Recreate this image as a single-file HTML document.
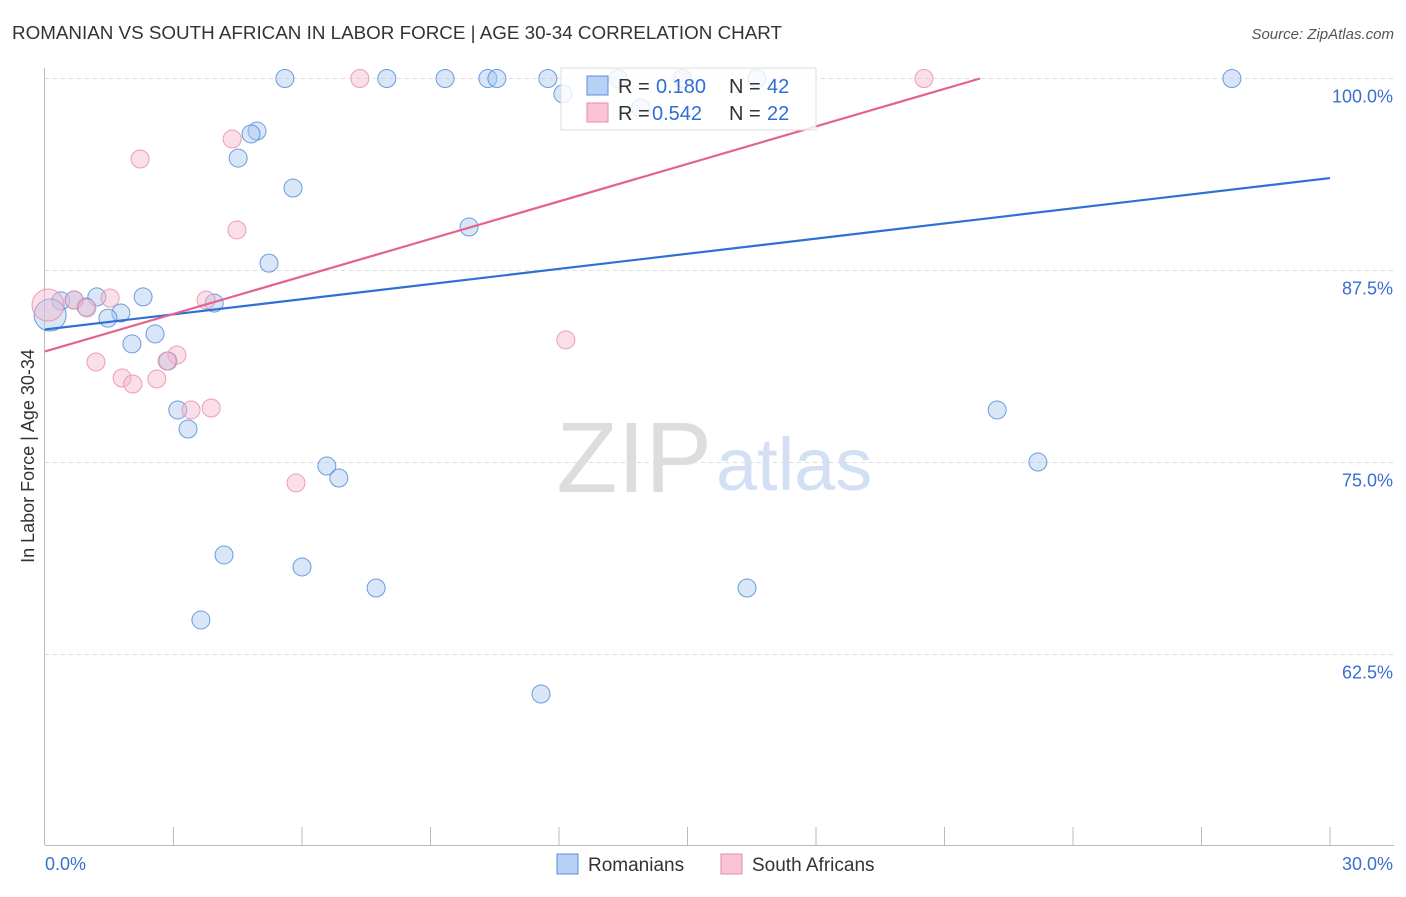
<!DOCTYPE html>
<html><head><meta charset="utf-8"><style>
body{margin:0;background:#fff;font-family:"Liberation Sans",sans-serif}
svg text{font-family:"Liberation Sans",sans-serif}
</style></head><body>
<svg id="chart" width="1406" height="892" xmlns="http://www.w3.org/2000/svg">
<text x="12" y="39" font-size="18" fill="#333" textLength="770" lengthAdjust="spacingAndGlyphs">ROMANIAN VS SOUTH AFRICAN IN LABOR FORCE | AGE 30-34 CORRELATION CHART</text>
<text x="1394" y="39" font-size="15" fill="#555" text-anchor="end" font-style="italic">Source: ZipAtlas.com</text>
<text transform="translate(34,456) rotate(-90)" font-size="18" fill="#333" text-anchor="middle">In Labor Force | Age 30-34</text>
<text x="712" y="492" font-size="100" fill="#ddd" text-anchor="end" font-family="Liberation Serif">ZIP</text>
<text x="716" y="490" font-size="74" fill="#d3e0f3">atlas</text>
<g id="grid"></g><g id="marks"></g>
</svg>
<script>
const xTicks=[0,30];
const yTicks=[62.5,75,87.5,100];
const blueX=[5.60,7.98,9.34,10.34,10.55,11.74,12.09,13.38,13.91,14.89,16.62,27.71,4.95,4.81,4.51,5.79,9.90,5.23,1.21,2.29,0.37,0.68,0.96,1.77,1.47,3.95,2.57,2.03,2.87,0.12,3.10,3.34,22.23,23.18,6.58,6.86,4.18,6.0,7.73,16.39,3.64,11.58];
const blueY=[100,100,100,100,100,100,99.0,100,98.08,100,100,100,96.58,96.39,94.82,92.87,90.33,87.98,85.78,85.78,85.52,85.58,85.12,84.73,84.40,85.38,83.37,82.72,81.61,84.6,78.42,77.18,78.42,75.03,74.77,73.99,68.98,68.2,66.83,66.83,64.75,59.93];
const pinkX=[7.35,20.52,14.87,4.37,2.22,4.48,0.07,0.68,1.52,0.98,3.76,3.08,1.19,1.80,2.05,2.61,3.88,2.85,5.86,12.16,3.41];
const pinkY=[100,100,100,96.06,94.76,90.14,85.25,85.58,85.71,85.06,85.58,82.0,81.54,80.5,80.11,80.44,78.55,81.61,73.67,82.98,78.42];
const blueLine=[83.66,93.52];
const pinkLine=[82.23,100,21.83];
const X=v=>45+v/30*1285;
const Y=v=>78.5+(100-v)/12.5*192;
const NS="http://www.w3.org/2000/svg";
const grid=document.getElementById('grid'),marks=document.getElementById('marks');
function mk(tag,attrs,parent){const e=document.createElementNS(NS,tag);for(const k in attrs)e.setAttribute(k,attrs[k]);parent.appendChild(e);return e;}
yTicks.forEach(t=>{
 const l=mk('line',{x1:45,x2:1394,y1:Y(t),y2:Y(t),stroke:'#ddd','stroke-dasharray':'4,4'},grid);
 
 
 const tx=mk('text',{x:1393,y:Y(t)+24,'font-size':18,fill:'#3a6fd0','text-anchor':'end'},grid);
 tx.textContent=t.toFixed(1)+'%';
 
 
});
const ax=mk('line',{x1:44.5,x2:44.5,y1:68,y2:845,stroke:'#bbb'},grid);


const bx=mk('line',{x1:45,x2:1394,y1:845.5,y2:845.5,stroke:'#bbb'},grid);


for(let i=1;i<=10;i++){const tk=mk('line',{x1:X(i*3),x2:X(i*3),y1:827,y2:845,stroke:'#bbb'},grid);
 
 }
xTicks.forEach((t,i)=>{const tx=mk('text',{x:i?1393:45,y:870,'font-size':18,fill:'#3a6fd0','text-anchor':i?'end':'start'},grid);
 tx.textContent=t.toFixed(1)+'%';
 
 });
function dots(xs,ys,fill,stroke,name){xs.forEach((v,i)=>{const big=v<0.2;const c=mk('circle',{cx:X(v),cy:Y(ys[i]),r:big?16:9,fill:fill,'fill-opacity':0.45,stroke:stroke,'stroke-opacity':0.8,'stroke-width':1},marks);
 
 });}
dots(blueX,blueY,'#a9c8f0','#4a86d8','romanian-point');
dots(pinkX,pinkY,'#f7b8cb','#e58aa8','south-african-point');
const bl=mk('line',{x1:X(0),y1:Y(blueLine[0]),x2:X(30),y2:Y(blueLine[1]),stroke:'#2f6fd6','stroke-width':2.2},marks);


const pl=mk('line',{x1:X(0),y1:Y(pinkLine[0]),x2:X(pinkLine[2]),y2:Y(pinkLine[1]),stroke:'#e3638d','stroke-width':2.2},marks);


</script>
<svg style="position:absolute;left:0;top:0" width="1406" height="892">
<g>
<rect x="561" y="68" width="255" height="62" fill="#fff" fill-opacity="0.8" stroke="#ddd"/>
<rect x="587" y="76" width="21" height="19" fill="#b7d0f3" stroke="#5a8fdc"/>
<rect x="587" y="103" width="21" height="19" fill="#f9c5d5" stroke="#e68aa8"/>
<text x="618" y="93" font-size="20" fill="#333">R =</text><text x="656" y="93" font-size="20" fill="#2f6fd6">0.180</text>
<text x="729" y="93" font-size="20" fill="#333">N =</text><text x="767" y="93" font-size="20" fill="#2f6fd6">42</text>
<text x="618" y="120" font-size="20" fill="#333">R =</text><text x="652" y="120" font-size="20" fill="#2f6fd6">0.542</text>
<text x="729" y="120" font-size="20" fill="#333">N =</text><text x="767" y="120" font-size="20" fill="#2f6fd6">22</text>
</g>
<g><rect x="557" y="854" width="21" height="20" fill="#b7d0f3" stroke="#5a8fdc"/><text x="588" y="871" font-size="19" fill="#333">Romanians</text></g>
<g><rect x="721" y="854" width="21" height="20" fill="#f9c5d5" stroke="#e68aa8"/><text x="752" y="871" font-size="19" fill="#333">South Africans</text></g>
</svg>
</body></html>
